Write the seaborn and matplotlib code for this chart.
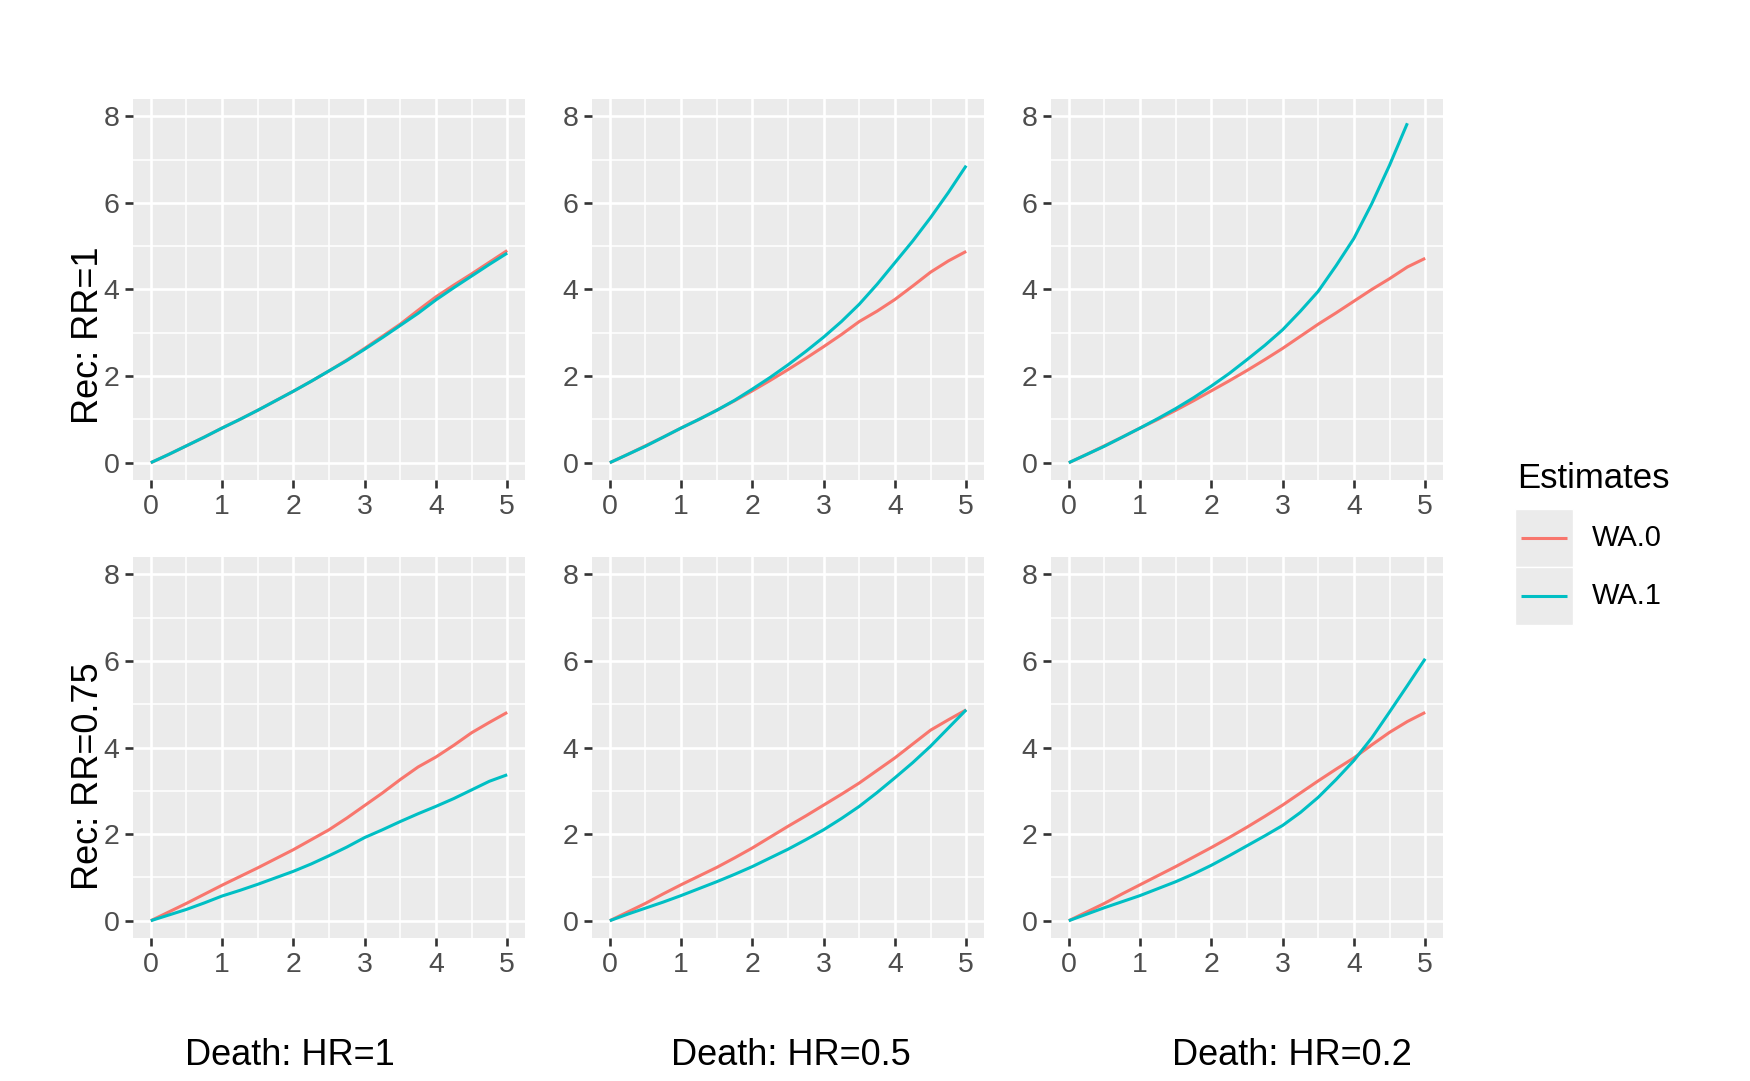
import numpy as np
import pandas as pd
import matplotlib
matplotlib.use("Agg")
import matplotlib.pyplot as plt
import seaborn as sns
from matplotlib.lines import Line2D
from matplotlib.patches import Rectangle

# time grid shared by every curve
TIME = [0, 0.25, 0.5, 0.75, 1, 1.25, 1.5, 1.75, 2, 2.25, 2.5,
        2.75, 3, 3.25, 3.5, 3.75, 4, 4.25, 4.5, 4.75, 5]

DEATH_LABELS = ["Death: HR=1", "Death: HR=0.5", "Death: HR=0.2"]
REC_LABELS = ["Rec: RR=1", "Rec: RR=0.75"]
ESTIMATES = ["WA.0", "WA.1"]

# Rec: RR=1
wa0_rr1_hr1 = [0, 0.19, 0.39, 0.59, 0.80, 1.00, 1.21, 1.43, 1.65, 1.88, 2.12,
               2.37, 2.64, 2.92, 3.20, 3.52, 3.83, 4.10, 4.36, 4.63, 4.90]
wa1_rr1_hr1 = [0, 0.19, 0.39, 0.59, 0.80, 1.00, 1.21, 1.43, 1.65, 1.88, 2.12,
               2.36, 2.62, 2.89, 3.17, 3.45, 3.76, 4.04, 4.31, 4.58, 4.84]
wa0_rr1_hr05 = [0, 0.19, 0.39, 0.59, 0.80, 1.00, 1.21, 1.43, 1.66, 1.90, 2.15,
                2.41, 2.68, 2.96, 3.26, 3.50, 3.77, 4.08, 4.40, 4.66, 4.88]
wa1_rr1_hr05 = [0, 0.19, 0.38, 0.59, 0.80, 1.00, 1.21, 1.44, 1.70, 1.97, 2.26,
                2.57, 2.90, 3.26, 3.66, 4.12, 4.62, 5.12, 5.66, 6.24, 6.86]
wa0_rr1_hr02 = [0, 0.19, 0.39, 0.59, 0.80, 1.00, 1.21, 1.43, 1.66, 1.89, 2.13,
                2.38, 2.64, 2.92, 3.20, 3.46, 3.73, 4.00, 4.25, 4.52, 4.72]
wa1_rr1_hr02 = [0, 0.19, 0.38, 0.59, 0.80, 1.02, 1.25, 1.50, 1.77, 2.06, 2.38,
                2.71, 3.07, 3.50, 3.96, 4.55, 5.18, 5.98, 6.87, 7.84, np.nan]

# Rec: RR=0.75
wa0_rr075_hr1 = [0, 0.20, 0.40, 0.61, 0.82, 1.02, 1.22, 1.43, 1.64, 1.87, 2.10,
                 2.37, 2.66, 2.95, 3.26, 3.55, 3.78, 4.05, 4.34, 4.58, 4.81]
wa1_rr075_hr1 = [0, 0.13, 0.26, 0.41, 0.57, 0.70, 0.84, 0.99, 1.14, 1.31, 1.50,
                 1.70, 1.92, 2.10, 2.29, 2.47, 2.64, 2.82, 3.02, 3.22, 3.37]
wa0_rr075_hr05 = [0, 0.20, 0.40, 0.62, 0.83, 1.03, 1.23, 1.45, 1.68, 1.93, 2.18,
                  2.42, 2.67, 2.92, 3.18, 3.47, 3.76, 4.08, 4.40, 4.64, 4.87]
wa1_rr075_hr05 = [0, 0.15, 0.29, 0.43, 0.58, 0.74, 0.90, 1.07, 1.25, 1.45, 1.65,
                  1.87, 2.10, 2.36, 2.64, 2.96, 3.30, 3.65, 4.03, 4.45, 4.87]
wa0_rr075_hr02 = [0, 0.20, 0.40, 0.62, 0.83, 1.04, 1.25, 1.47, 1.69, 1.92, 2.16,
                  2.41, 2.67, 2.95, 3.23, 3.50, 3.76, 4.06, 4.35, 4.60, 4.81]
wa1_rr075_hr02 = [0, 0.15, 0.30, 0.44, 0.58, 0.74, 0.90, 1.08, 1.28, 1.50, 1.73,
                  1.96, 2.20, 2.50, 2.85, 3.26, 3.70, 4.22, 4.82, 5.43, 6.05]

PANELS = {
    (0, 0): (wa0_rr1_hr1, wa1_rr1_hr1),
    (0, 1): (wa0_rr1_hr05, wa1_rr1_hr05),
    (0, 2): (wa0_rr1_hr02, wa1_rr1_hr02),
    (1, 0): (wa0_rr075_hr1, wa1_rr075_hr1),
    (1, 1): (wa0_rr075_hr05, wa1_rr075_hr05),
    (1, 2): (wa0_rr075_hr02, wa1_rr075_hr02),
}

PALETTE = {"WA.0": "#F8766D", "WA.1": "#00BFC4"}

rows = []
for (r, c), series in PANELS.items():
    for est, vals in zip(ESTIMATES, series):
        for t, v in zip(TIME, vals):
            rows.append({"row": r, "col": c, "estimate": est, "time": t, "value": v})
df = pd.DataFrame(rows).dropna()

sns.set_theme(style="white")
plt.rcParams["font.family"] = ["Liberation Sans", "DejaVu Sans"]

W, H = 1750, 1081
fig = plt.figure(figsize=(W / 100, H / 100), dpi=100)

col_left = [133, 592, 1051]
row_top = [99, 557]
pw, ph = 392, 381

for r in range(2):
    for c in range(3):
        ax = fig.add_axes([col_left[c] / W, 1 - (row_top[r] + ph) / H, pw / W, ph / H])
        ax.set_facecolor("#EBEBEB")
        sub = df[(df["row"] == r) & (df["col"] == c)]
        sns.lineplot(data=sub, x="time", y="value", hue="estimate",
                     hue_order=ESTIMATES, palette=PALETTE, estimator=None,
                     legend=False, linewidth=2.2, ax=ax, solid_capstyle="butt")
        ax.set_xlim(-0.25, 5.25)
        ax.set_ylim(-0.4, 8.4)
        ax.set_xticks(range(6))
        ax.set_yticks([0, 2, 4, 6, 8])
        ax.set_xticks(np.arange(0.5, 5, 1), minor=True)
        ax.set_yticks([1, 3, 5, 7], minor=True)
        ax.grid(which="major", color="white", linewidth=1.9)
        ax.grid(which="minor", color="white", linewidth=1.1)
        ax.set_axisbelow(True)
        for s in ax.spines.values():
            s.set_visible(False)
        ax.tick_params(which="major", length=5.8, width=1.9, color="#333333",
                       labelcolor="#4D4D4D", labelsize=20.5, pad=4,
                       bottom=True, left=True)
        ax.tick_params(which="minor", length=0)
        ax.set_xlabel("")
        ax.set_ylabel("")

# row labels
fig.text(88 / W, 1 - 335 / H, REC_LABELS[0], rotation=90, ha="center", va="center",
         fontsize=26, color="black")
fig.text(88 / W, 1 - 776 / H, REC_LABELS[1], rotation=90, ha="center", va="center",
         fontsize=26, color="black")

# column labels
for xc, lab in zip([290, 791, 1292], DEATH_LABELS):
    fig.text(xc / W, 1 - 1065 / H, lab, ha="center", va="baseline",
             fontsize=26, color="black")

# legend
fig.text(1517 / W, 1 - 488 / H, "Estimates", ha="left", va="baseline",
         fontsize=25, color="black")
for i, est in enumerate(ESTIMATES):
    top = 509 + i * 58
    fig.add_artist(Rectangle((1515 / W, 1 - (top + 58) / H), 58 / W, 58 / H,
                             transform=fig.transFigure, facecolor="#EBEBEB",
                             edgecolor="white", linewidth=1))
    yc = 1 - (top + 29) / H
    fig.add_artist(Line2D([1521 / W, 1567 / W], [yc, yc], transform=fig.transFigure,
                          color=PALETTE[est], linewidth=2.2, solid_capstyle="butt"))
    fig.text(1592 / W, yc, est, ha="left", va="center", fontsize=21, color="black")

fig.savefig("out.png", dpi=100)
plt.close(fig)
